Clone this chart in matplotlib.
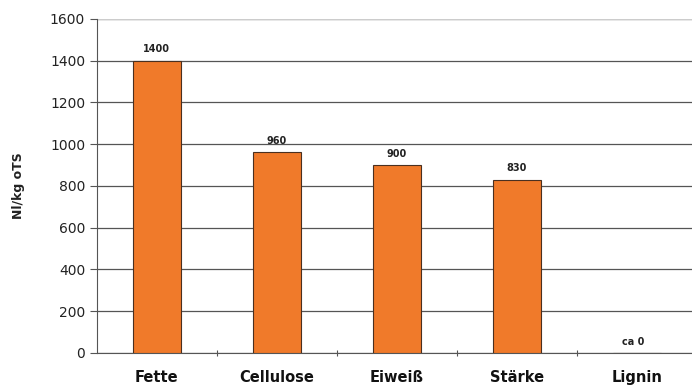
import matplotlib
matplotlib.use("Agg")
import matplotlib.pyplot as plt

categories = ["Fette", "Cellulose", "Eiweiß", "Stärke", "Lignin"]
values = [1400, 960, 900, 830, 0]
value_labels = ["1400", "960", "900", "830", "ca 0"]

plt.rcParams["font.family"] = ["DejaVu Sans"]

fig = plt.figure(figsize=(6.92, 3.86), dpi=100)
ax = fig.add_axes([0.140, 0.0855, 0.867, 0.866])

x = range(len(categories))
ax.bar(x, values, width=0.4, color="#f07a2a", edgecolor="#4a3020", linewidth=0.8, zorder=3)

for xi, v, lab in zip(x, values, value_labels):
    dx = -0.03 if lab.startswith("ca") else 0
    ax.text(xi + dx, v + 30, lab, ha="center", va="bottom", fontsize=7,
            fontweight="bold", color="#222222")

ax.set_xlim(-0.5, 4.5)
ax.set_ylim(0, 1600)
ax.set_yticks(range(0, 1601, 200))
ax.yaxis.grid(True, color="#555555", linewidth=0.9, zorder=0)
ax.set_xticks([0.5, 1.5, 2.5, 3.5])
ax.set_xticklabels([])
ax.tick_params(axis="x", direction="inout", length=5, color="#555555")
ax.tick_params(axis="y", direction="out", length=5, color="#555555", labelsize=10,
               labelcolor="#222222")
for i, c in enumerate(categories):
    ax.text(i, -0.05, c, transform=ax.get_xaxis_transform(), ha="center", va="top",
            fontsize=10.5, fontweight="bold", color="#111111")

ax.set_ylabel("Nl/kg oTS", fontsize=9, fontweight="bold", color="#222222", labelpad=18)

for s in ["top", "right"]:
    ax.spines[s].set_visible(False)
ax.spines["left"].set_color("#555555")
ax.spines["bottom"].set_color("#555555")
ax.axhline(1600, color="#cccccc", linewidth=0.8)

fig.savefig("out.png", dpi=100)
